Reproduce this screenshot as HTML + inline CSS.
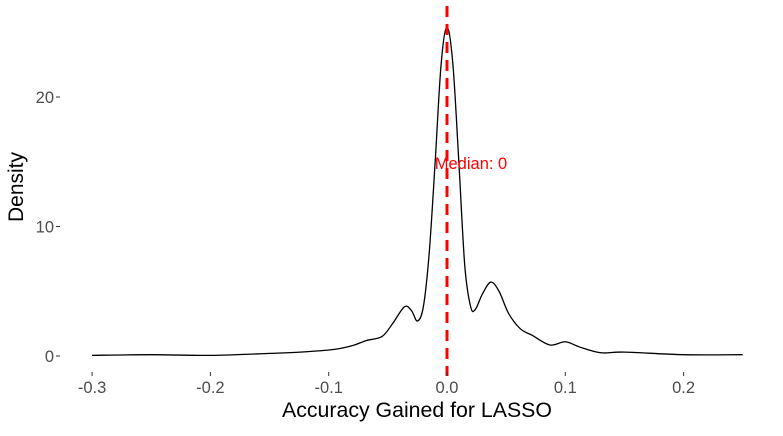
<!DOCTYPE html>
<html><head><meta charset="utf-8"><style>
body{margin:0;background:#fff;font-family:"Liberation Sans",sans-serif}
</style></head><body>
<svg width="783" height="431" viewBox="0 0 783 431" id="chart">
</svg>
<script>
const xs=[-0.3,-0.25,-0.2,-0.15,-0.124,-0.096,-0.08,-0.068,-0.055,-0.046,-0.036,-0.030,-0.025,-0.02,-0.015,-0.01,-0.005,0,0.005,0.01,0.015,0.02,0.024,0.03,0.037,0.044,0.052,0.062,0.072,0.087,0.1,0.112,0.13,0.15,0.2,0.25];
const ys=[0.05,0.1,0.05,0.2,0.3,0.5,0.8,1.2,1.5,2.5,3.8,3.5,2.7,3.8,8,15,22.5,25.4,22.5,15,7,3.8,3.6,4.8,5.7,5,3.3,2.1,1.6,0.85,1.1,0.7,0.25,0.3,0.1,0.1];
const xTicks=[-0.3,-0.2,-0.1,0.0,0.1,0.2];
const xTickLabels=["-0.3","-0.2","-0.1","0.0","0.1","0.2"];
const yTicks=[0,10,20];
const medianValue=0;
const svg=document.getElementById('chart');
const NS='http://www.w3.org/2000/svg';
const X=v=>447+v*1183;
const Y=v=>356-v*12.95;
function mk(t,a){const e=document.createElementNS(NS,t);for(const k in a)e.setAttribute(k,a[k]);svg.appendChild(e);return e;}
const P=xs.map((x,i)=>[X(x),Y(ys[i])]);
let d='M'+P[0][0]+','+P[0][1];
for(let i=0;i<P.length-1;i++){const p0=P[Math.max(0,i-1)],p1=P[i],p2=P[i+1],p3=P[Math.min(P.length-1,i+2)];
const c1=[p1[0]+(p2[0]-p0[0])/6,p1[1]+(p2[1]-p0[1])/6],c2=[p2[0]-(p3[0]-p1[0])/6,p2[1]-(p3[1]-p1[1])/6];
d+=`C${c1[0]},${c1[1]} ${c2[0]},${c2[1]} ${p2[0]},${p2[1]}`;}
const c=mk('path',{d:d,fill:'none',stroke:'#000','stroke-width':1.3});


const m=mk('line',{x1:X(medianValue),x2:X(medianValue),y1:6,y2:376,stroke:'#ff0000','stroke-width':3,'stroke-dasharray':'11,7'});


const mt=mk('text',{x:X(medianValue)+24,y:169,'text-anchor':'middle','font-size':16.5,fill:'#ff0000'});
mt.textContent='Median: '+medianValue;


xTicks.forEach((v,i)=>{
 const l=mk('line',{x1:X(v),x2:X(v),y1:372,y2:376,stroke:'#333','stroke-width':1});
 
 
 const t=mk('text',{x:X(v),y:393,'text-anchor':'middle','font-size':16.5,fill:'#4d4d4d'});
 t.textContent=xTickLabels[i];
 
 
});
yTicks.forEach(v=>{
 const l=mk('line',{x1:56,x2:60,y1:Y(v),y2:Y(v),stroke:'#333','stroke-width':1});
 
 
 const t=mk('text',{x:54,y:Y(v)+6,'text-anchor':'end','font-size':16.5,fill:'#4d4d4d'});
 t.textContent=v;
 
 
});
const xt=mk('text',{x:417,y:417,'text-anchor':'middle','font-size':21.3,fill:'#000'});
xt.textContent='Accuracy Gained for LASSO';


const yt=mk('text',{x:0,y:0,transform:'translate(23,187) rotate(-90)','text-anchor':'middle','font-size':21,fill:'#000'});
yt.textContent='Density';


</script>
</body></html>
